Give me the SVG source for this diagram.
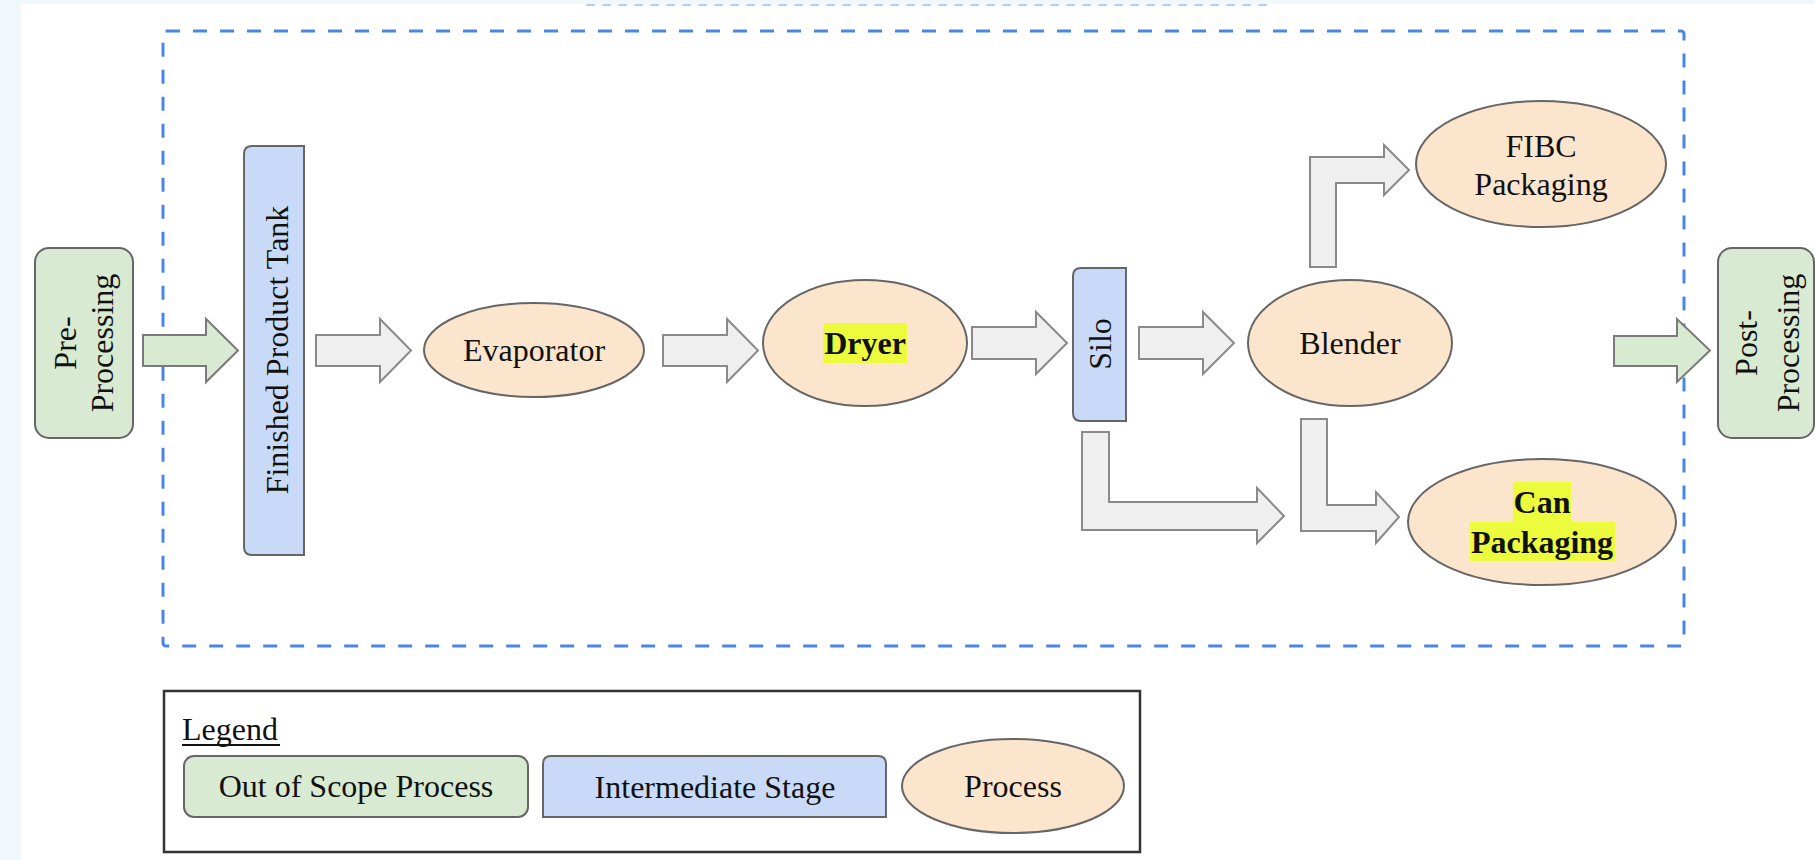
<svg xmlns="http://www.w3.org/2000/svg" width="1815" height="860" viewBox="0 0 1815 860">
<style>
text{font-family:"Liberation Serif","Times New Roman",serif;font-size:32px;fill:#111;}
.c{text-anchor:middle;}
.b{font-weight:bold;}
.oos{fill:#d9ead3;stroke:#666;stroke-width:2;}
.mid{fill:#c9daf8;stroke:#666;stroke-width:2;}
.proc{fill:#fce5cd;stroke:#666;stroke-width:2;}
.arr{fill:#efefef;stroke:#8a8a8a;stroke-width:2;stroke-linejoin:miter;}
.garr{fill:#d9ead3;stroke:#7a7a7a;stroke-width:2;}
.hl{fill:#ecfb3c;}
</style>
<rect x="0" y="0" width="1815" height="860" fill="#f1f8fc"/>
<rect x="21" y="4" width="1794" height="856" fill="#ffffff"/>
<line x1="586" y1="5" x2="1269" y2="5" stroke="#b6cff5" stroke-width="2" stroke-dasharray="9 7"/>
<rect id="scope" x="163" y="31" width="1521" height="615" rx="3" fill="none" stroke="#4a86e8" stroke-width="3" stroke-dasharray="14 13"/>

<g id="connectors">
<polygon class="garr" points="143,335 206,335 206,319 238,350.5 206,382 206,366 143,366"/>
<polygon class="arr" points="316,335 380,335 380,319 411,350.5 380,382 380,366 316,366"/>
<polygon class="arr" points="663,335 727,335 727,319 758,350.5 727,382 727,366 663,366"/>
<polygon class="arr" points="972,327 1036,327 1036,312 1067,343 1036,374 1036,359 972,359"/>
<polygon class="arr" points="1139,327 1203,327 1203,312 1234,343 1203,374 1203,359 1139,359"/>
<polygon class="garr" points="1614,336 1677,336 1677,319 1710,350.5 1677,382 1677,366 1614,366"/>
<polygon class="arr" points="1310,267 1310,157 1384,157 1384,145 1409,170 1384,195 1384,183 1336,183 1336,267"/>
<polygon class="arr" points="1082,432 1109,432 1109,502 1257,502 1257,488 1284,516 1257,543 1257,530 1082,530"/>
<polygon class="arr" points="1301,419 1327,419 1327,505 1376,505 1376,492 1399,517 1376,543 1376,531 1301,531"/>
</g>

<g id="pre">
<rect class="oos" x="35" y="248" width="98" height="190" rx="14"/>
<text class="c" transform="translate(76,343) rotate(-90)">Pre-</text>
<text class="c" transform="translate(113,343) rotate(-90)">Processing</text>
</g>

<g id="tank">
<path class="mid" d="M252,146 H304 V555 H252 Q244,555 244,547 V154 Q244,146 252,146 Z"/>
<text class="c" transform="translate(288,350) rotate(-90)">Finished Product Tank</text>
</g>

<g id="evaporator">
<ellipse class="proc" cx="534" cy="350" rx="110" ry="47"/>
<text class="c" x="534" y="361">Evaporator</text>
</g>

<g id="dryer">
<ellipse class="proc" cx="865" cy="343" rx="102" ry="63"/>
<rect class="hl" x="823" y="323" width="84" height="40"/>
<text class="c b" x="865" y="354">Dryer</text>
</g>

<g id="silo">
<path class="mid" d="M1081,268 H1126 V421 H1081 Q1073,421 1073,413 V276 Q1073,268 1081,268 Z"/>
<text class="c" transform="translate(1111,344) rotate(-90)">Silo</text>
</g>

<g id="blender">
<ellipse class="proc" cx="1350" cy="343" rx="102" ry="63"/>
<text class="c" x="1350" y="354">Blender</text>
</g>

<g id="fibc">
<ellipse class="proc" cx="1541" cy="164" rx="125" ry="63"/>
<text class="c" x="1541" y="157">FIBC</text>
<text class="c" x="1541" y="195">Packaging</text>
</g>

<g id="can">
<ellipse class="proc" cx="1542" cy="522" rx="134" ry="63"/>
<rect class="hl" x="1513" y="482" width="58" height="40"/>
<rect class="hl" x="1470" y="522" width="145" height="39"/>
<text class="c b" x="1542" y="513">Can</text>
<text class="c b" x="1542" y="553">Packaging</text>
</g>

<g id="post">
<rect class="oos" x="1718" y="248" width="96" height="190" rx="14"/>
<text class="c" transform="translate(1757,343) rotate(-90)">Post-</text>
<text class="c" transform="translate(1799,343) rotate(-90)">Processing</text>
</g>

<g id="legend">
<rect x="164" y="691" width="976" height="161" fill="#ffffff" stroke="#333" stroke-width="2.5"/>
<text x="182" y="740">Legend</text>
<line x1="182" y1="745" x2="280" y2="745" stroke="#111" stroke-width="2"/>
<rect class="oos" x="184" y="756" width="344" height="61" rx="10"/>
<text class="c" x="356" y="797">Out of Scope Process</text>
<path class="mid" d="M551,756 H878 Q886,756 886,764 V817 H543 V764 Q543,756 551,756 Z"/>
<text class="c" x="715" y="798">Intermediate Stage</text>
<ellipse class="proc" cx="1013" cy="786" rx="111" ry="47"/>
<text class="c" x="1013" y="797">Process</text>
</g>
</svg>
